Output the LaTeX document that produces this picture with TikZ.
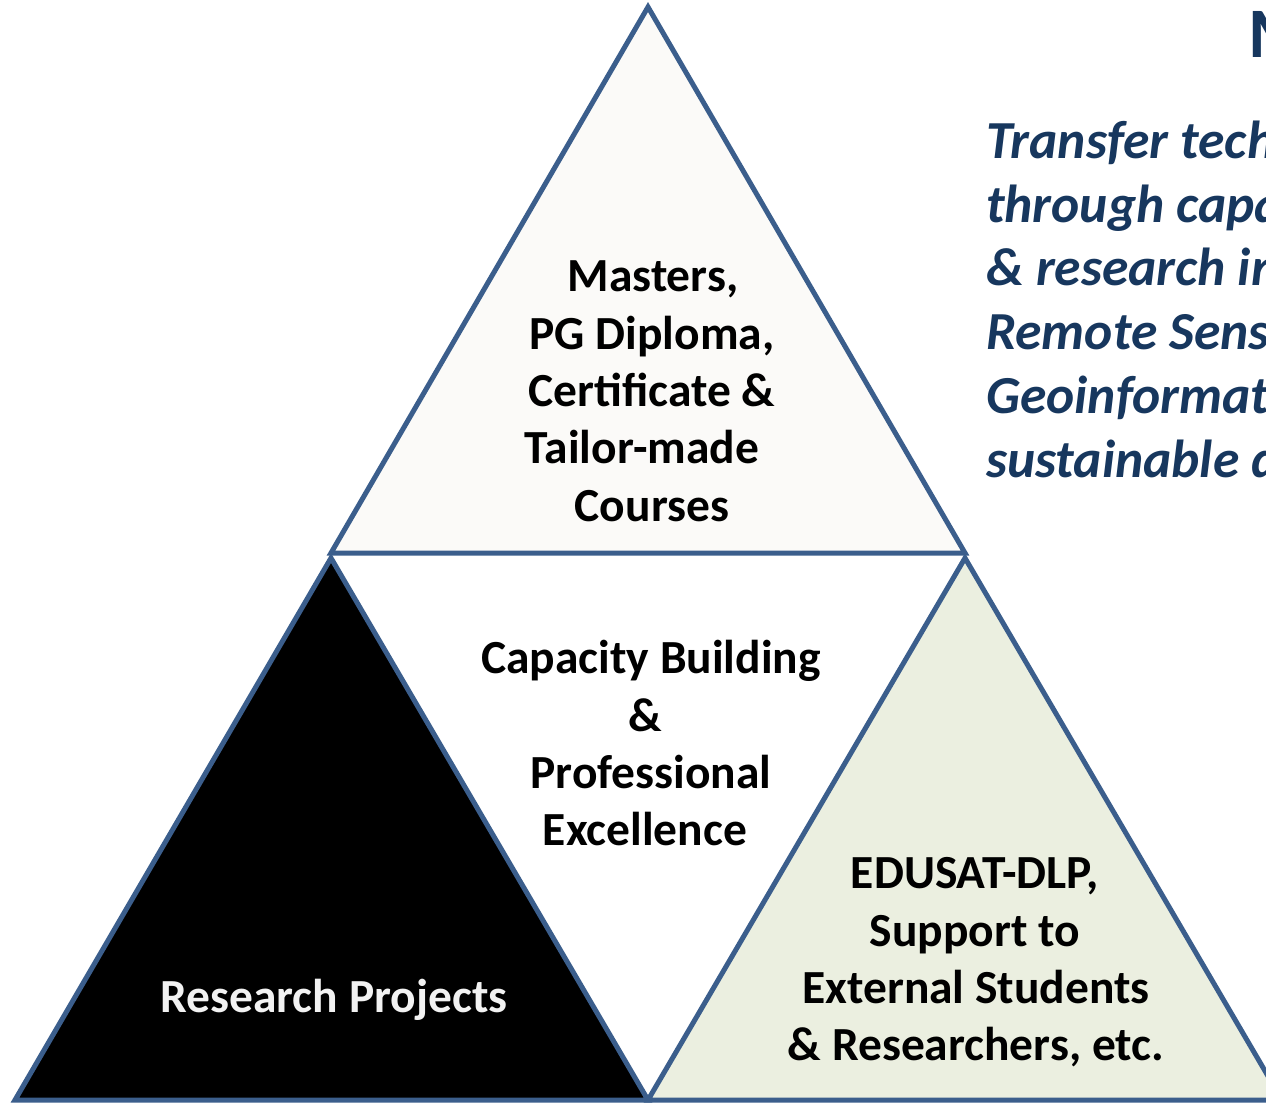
\documentclass[tikz,border=0pt]{standalone}
\usepackage{fontspec}
\setmainfont{Carlito}
\definecolor{edge}{HTML}{3B5E8C}
\definecolor{topfill}{HTML}{FBFAF8}
\definecolor{greenfill}{HTML}{EBEFE0}
\definecolor{navy}{HTML}{17375E}
\definecolor{lightwhite}{HTML}{F2F2F2}
\tikzset{
  tri/.style={draw=edge, line width=5pt, line join=miter},
  lbl/.style={inner sep=0pt, anchor=base, font=\fontsize{47.5}{56}\selectfont\bfseries},
  bluetxt/.style={inner sep=0pt, anchor=base west, text=navy, font=\fontsize{53.5}{62}\selectfont\bfseries\itshape},
}
\begin{document}
\begin{tikzpicture}[x=1pt,y=-1pt]
\useasboundingbox (0,0) rectangle (1266,1103);
\fill[white] (0,0) rectangle (1266,1103);
\begin{scope}
\clip (0,0) rectangle (1266,1103);
% vertices
\coordinate (tA) at (648,7);
\coordinate (tL) at (331,553);
\coordinate (tR) at (965,553);
\coordinate (lA) at (331,558);
\coordinate (lL) at (15,1100);
\coordinate (lR) at (648,1100);
\coordinate (rA) at (965,558);
\coordinate (rL) at (648,1100);
\coordinate (rR) at (1282,1100);
\path[tri, fill=topfill] (tA) -- (tL) -- (tR) -- cycle;
\path[tri, fill=black] (lA) -- (lL) -- (lR) -- cycle;
\path[tri, fill=greenfill] (rA) -- (rL) -- (rR) -- cycle;

% top triangle text
\node[lbl] (t1) at (653,291) {Masters,};
\node[lbl] (t2) at (652,349) {PG Diploma,};
\node[lbl] (t3) at (652,406) {Certificate \&};
\node[lbl] (t4) at (642,463) {Tailor-made};
\node[lbl] (t5) at (652,521) {Courses};

% centre text
\node[lbl] (c1) at (651,673) {Capacity Building};
\node[lbl] (c2) at (645,731) {\&};
\node[lbl] (c3) at (651,788) {Professional};
\node[lbl] (c4) at (645,845) {Excellence};

% left triangle text
\node[lbl, text=lightwhite] (r1) at (334,1012) {Research Projects};

% right triangle text
\node[lbl] (e1) at (975,888) {EDUSAT-DLP,};
\node[lbl] (e2) at (975,946) {Support to};
\node[lbl] (e3) at (976,1003) {External Students};
\node[lbl] (e4) at (976,1060) {\& Researchers, etc.};

% right-hand mission text (cut off by the frame)
\node[inner sep=0pt, anchor=base west, text=navy, font=\fontsize{71}{80}\selectfont\bfseries] (mt) at (1248,57) {M};
\node[bluetxt] (b1) at (986,158) {Transfer tech};
\node[bluetxt] (b2) at (986,222) {through capa};
\node[bluetxt] (b3) at (986,285) {\& research in};
\node[bluetxt] (b4) at (986,349) {Remote Sens};
\node[bluetxt] (b5) at (986,413) {Geoinformat};
\node[bluetxt] (b6) at (986,477) {sustainable d};
\end{scope}
\end{tikzpicture}
\end{document}
